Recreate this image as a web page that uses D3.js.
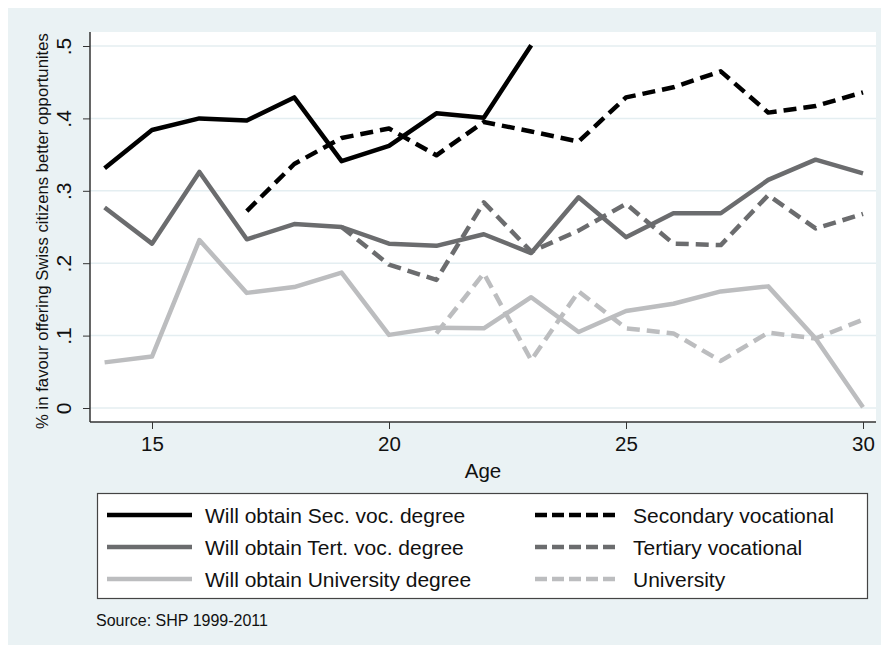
<!DOCTYPE html>
<html>
<head>
<meta charset="utf-8">
<script src="https://cdn.jsdelivr.net/npm/d3@7"></script>
<style>
  body { margin: 0; background: #fff; }
  text { font-family: "Liberation Sans", Arial, sans-serif; fill: #111; }
</style>
</head>
<body>
<svg width="885" height="651"></svg>
<script>
// eta (asse x)
var ages = [14, 15, 16, 17, 18, 19, 20, 21, 22, 23, 24, 25, 26, 27, 28, 29, 30];

// serie: valori, null = nessun dato
var secVocWill  = [0.331, 0.384, 0.400, 0.397, 0.429, 0.341, 0.362, 0.407, 0.401, 0.501, null, null, null, null, null, null, null];
var tertVocWill = [0.277, 0.227, 0.326, 0.233, 0.254, 0.250, 0.227, 0.224, 0.240, 0.214, 0.291, 0.236, 0.269, 0.269, 0.315, 0.343, 0.324];
var uniWill     = [0.063, 0.071, 0.232, 0.159, 0.167, 0.187, 0.101, 0.111, 0.110, 0.153, 0.105, 0.134, 0.144, 0.161, 0.168, 0.096, 0.001];
var secVoc      = [null, null, null, 0.272, 0.337, 0.373, 0.386, 0.349, 0.395, 0.382, 0.368, 0.429, 0.443, 0.465, 0.408, 0.417, 0.436];
var tertVoc     = [null, null, null, null, null, 0.250, 0.198, 0.177, 0.284, 0.216, 0.245, 0.282, 0.227, 0.225, 0.294, 0.248, 0.268];
var uni         = [null, null, null, null, null, null, null, 0.103, 0.186, 0.066, 0.161, 0.110, 0.103, 0.065, 0.104, 0.096, 0.122];

var yTicks = [0, 0.1, 0.2, 0.3, 0.4, 0.5];
var yTickLabels = ["0", ".1", ".2", ".3", ".4", ".5"];
var xTicks = [15, 20, 25, 30];

var seriesNames = ["Will obtain Sec. voc. degree", "Will obtain Tert. voc. degree", "Will obtain University degree",
                   "Secondary vocational", "Tertiary vocational", "University"];
var seriesData = [secVocWill, tertVocWill, uniWill, secVoc, tertVoc, uni];
var colori = ["#000000", "#6b6c6e", "#bcbdbf", "#000000", "#6b6c6e", "#bcbdbf"];
var tratteggi = [null, null, null, "13,7", "13,7", "13,7"];

var svg = d3.select("svg");

// sfondo
svg.append("rect").attr("x", 8).attr("y", 8).attr("width", 873).attr("height", 637).attr("fill", "#eaf2f4");

// area del grafico
var plotL = 90, plotR = 876, plotT = 32, plotB = 422;
svg.append("rect").attr("x", plotL).attr("y", plotT).attr("width", plotR - plotL).attr("height", plotB - plotT)
   .attr("fill", "#ffffff");

var x = d3.scaleLinear().domain([14, 30]).range([104.6, 863]);
var y = d3.scaleLinear().domain([0, 0.5]).range([408, 46]);

// griglia
svg.append("g").selectAll("line").data(yTicks).enter().append("line")
   .attr("x1", plotL).attr("x2", plotR)
   .attr("y1", function(d){ return y(d); }).attr("y2", function(d){ return y(d); })
   .attr("stroke", "#e4eef1").attr("stroke-width", 1.5);

// assi
var yAxis = d3.axisLeft(y).tickValues(yTicks).tickSize(7).tickPadding(4)
              .tickFormat(function(d, i){ return yTickLabels[i]; });
var gy = svg.append("g").attr("transform", "translate(" + plotL + ",0)").call(yAxis);
gy.select(".domain").remove();
gy.selectAll("line").attr("stroke", "#333");
gy.selectAll("text")
  .attr("transform", "rotate(-90)")
  .attr("x", 0)
  .attr("y", -19)
  .attr("dy", "0")
  .attr("text-anchor", "middle")
  .style("font-size", "21px");
svg.append("line").attr("x1", plotL).attr("x2", plotL).attr("y1", plotT).attr("y2", plotB)
   .attr("stroke", "#333").attr("stroke-width", 1.5);

var xAxis = d3.axisBottom(x).tickValues(xTicks).tickSize(7).tickPadding(7);
var gx = svg.append("g").attr("transform", "translate(0," + plotB + ")").call(xAxis);
gx.select(".domain").remove();
gx.selectAll("line").attr("stroke", "#333");
gx.selectAll("text").style("font-size", "20.5px");
svg.append("line").attr("x1", plotL).attr("x2", plotR).attr("y1", plotB).attr("y2", plotB)
   .attr("stroke", "#333").attr("stroke-width", 1.5);

svg.append("text").attr("x", (plotL + plotR) / 2).attr("y", 478).attr("text-anchor", "middle")
   .style("font-size", "20.5px").text("Age");

svg.append("text").attr("transform", "translate(48," + ((plotT + plotB) / 2 + 4) + ") rotate(-90)")
   .attr("text-anchor", "middle").style("font-size", "16.7px")
   .text("% in favour offering Swiss citizens better opportunites");

// linee
var linea = d3.line()
   .defined(function(d){ return d != null; })
   .x(function(d, i){ return x(ages[i]); })
   .y(function(d){ return y(d); });

var ordine = [2, 5, 1, 4, 0, 3];
ordine.forEach(function(k){
  svg.append("path")
     .datum(seriesData[k])
     .attr("d", linea)
     .attr("fill", "none")
     .attr("stroke", colori[k])
     .attr("stroke-width", 4.5)
     .attr("stroke-linejoin", "round")
     .attr("stroke-dasharray", tratteggi[k]);
});

// legenda
svg.append("rect").attr("x", 97.5).attr("y", 493.5).attr("width", 770).attr("height", 105)
   .attr("fill", "#ffffff").attr("stroke", "#444").attr("stroke-width", 1.2);

var righe = [515, 547, 579];
seriesNames.forEach(function(nome, k){
  var col = k < 3 ? 0 : 1;
  var r = k % 3;
  var x0 = col == 0 ? 107 : 535;
  var x1 = col == 0 ? 192 : 620;
  var tx = col == 0 ? 205 : 633;
  svg.append("line").attr("x1", x0).attr("x2", x1).attr("y1", righe[r]).attr("y2", righe[r])
     .attr("stroke", colori[k]).attr("stroke-width", 4.5)
     .attr("stroke-dasharray", tratteggi[k] ? "12,5" : null);
  svg.append("text").attr("x", tx).attr("y", righe[r] + 7.5)
     .style("font-size", "21px").text(nome);
});

svg.append("text").attr("x", 96).attr("y", 626).style("font-size", "16px").text("Source: SHP 1999-2011");
</script>
</body>
</html>
